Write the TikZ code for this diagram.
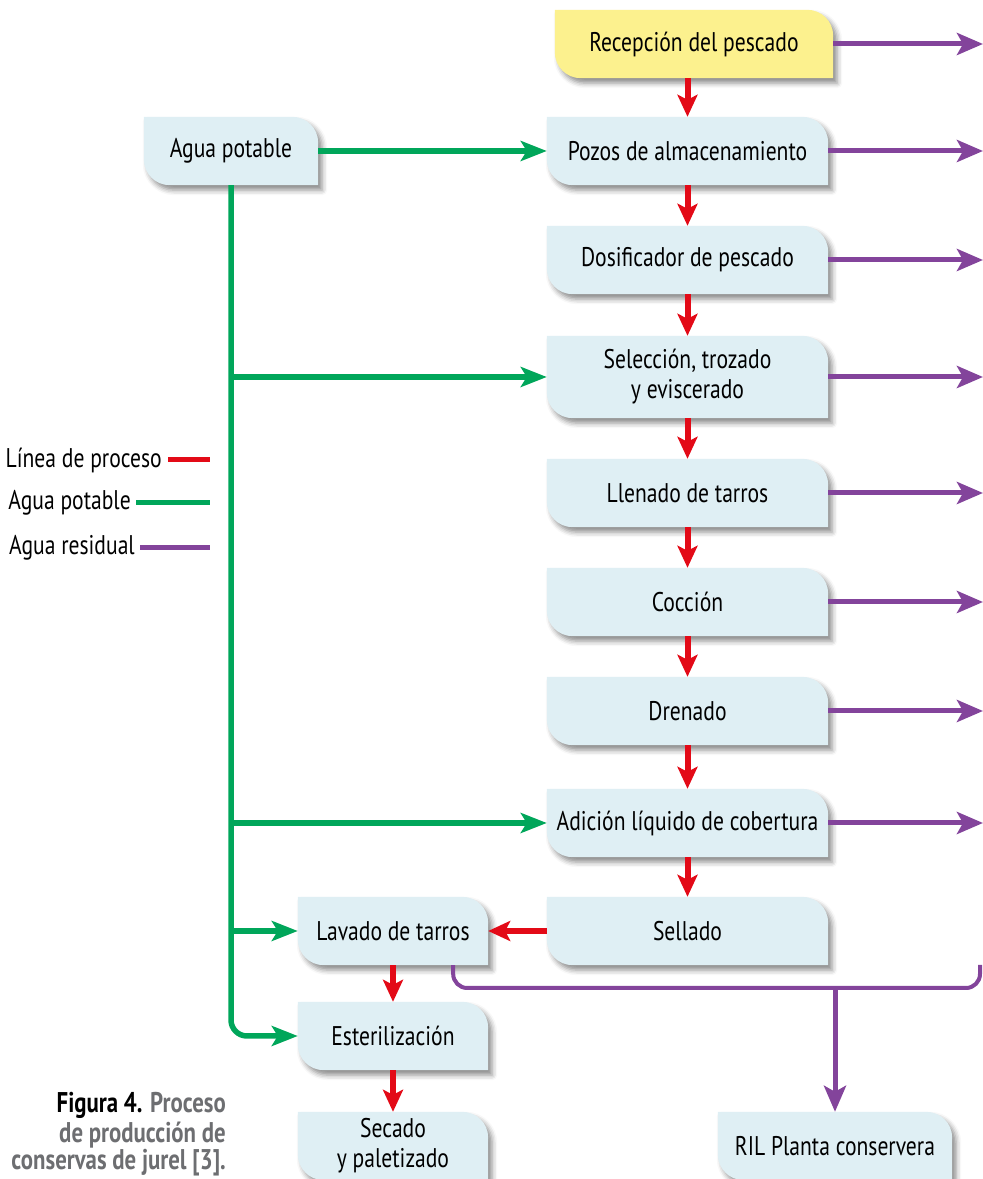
\documentclass[tikz,border=0pt]{standalone}
\usepackage{fontspec}
\setmainfont[FakeStretch=0.80]{PT Sans}
\usetikzlibrary{arrows.meta,calc,backgrounds,shadows.blur}
\definecolor{procred}{HTML}{E30A17}
\definecolor{potgreen}{HTML}{00A65A}
\definecolor{respurple}{HTML}{83449B}
\definecolor{boxblue}{HTML}{DFEFF4}
\definecolor{boxyellow}{HTML}{FCF18E}
\definecolor{capgray}{HTML}{6D6E71}
\newcommand\boxfont{\fontsize{27}{30}\selectfont}
\newcommand\capfont{\fontsize{28.5}{30}\selectfont}
\newcommand\procbox[2]{%
  \fill[#2, blur shadow={shadow xshift=4pt, shadow yshift=-5pt, shadow blur radius=5pt, shadow opacity=45}]
    (#1.north west) -- ($(#1.north east)+(-26pt,0)$)
    arc[start angle=90,end angle=0,radius=26pt] -- (#1.south east)
    -- ($(#1.south west)+(26pt,0)$)
    arc[start angle=270,end angle=180,radius=26pt] -- cycle;}
\tikzset{
  box/.style={minimum width=281pt, minimum height=68pt, inner sep=0pt, align=center, font=\boxfont, text=black},
  smallbox/.style={box, minimum width=190pt},
  redarrow/.style={draw=procred, line width=6pt, -{Stealth[length=22pt,width=20pt,inset=5pt]}},
  greenarrow/.style={draw=potgreen, line width=5.5pt, -{Stealth[length=26pt,width=20pt,inset=6pt]}},
  purplearrow/.style={draw=respurple, line width=5pt, -{Stealth[length=26pt,width=22pt,inset=6pt]}},
  purpleline/.style={draw=respurple, line width=4pt},
  legendtext/.style={anchor=east, inner sep=0pt, font=\boxfont},
  legendline/.style={line width=5pt},
  captext/.style={anchor=east, inner sep=0pt, font=\capfont\bfseries, text=capgray}
}
\begin{document}
\begin{tikzpicture}[x=1pt,y=1pt]
\useasboundingbox (0,0) rectangle (983,1179);
% nodes
\node[box, minimum width=278pt] (rec) at (694,1135) {Recepción del pescado};
\node[box] (pozos) at (687.5,1028) {Pozos de almacenamiento};
\node[box] (dosif) at (687.5,919) {Dosificador de pescado};
\node[box, minimum height=82pt] (selec) at (687.5,802) {Selección, trozado\\ y eviscerado};
\node[box] (llen) at (687.5,686) {Llenado de tarros};
\node[box] (cocc) at (687.5,577) {Cocción};
\node[box] (dren) at (687.5,468) {Drenado};
\node[box] (adic) at (687.5,356) {Adición líquido de cobertura};
\node[box] (sell) at (687.5,248) {Sellado};
\node[box, minimum width=174pt] (agua) at (231,1028) {Agua potable};
\node[smallbox] (lav) at (393,248) {Lavado de tarros};
\node[smallbox] (est) at (393,143) {Esterilización};
\node[smallbox] (sec) at (393,33) {Secado\\ y paletizado};
\node[box, minimum width=234pt] (ril) at (835,33) {RIL Planta conservera};
% box shapes
\begin{scope}[on background layer]
  \procbox{rec}{boxyellow}
  \foreach \n in {pozos,dosif,selec,llen,cocc,dren,adic,sell,agua,lav,est,sec,ril}{\procbox{\n}{boxblue}}
\end{scope}
% helper coordinates
\coordinate (re) at (983,0);
\coordinate (retA) at ($(lav.south east)+(-35pt,0)$);
\coordinate (retB) at (980,191);
\coordinate (retC) at (980,214);
% red process line
\draw[redarrow] (rec.south -| pozos.north) -- (pozos.north);
\draw[redarrow] (pozos.south) -- (dosif.north);
\draw[redarrow] (dosif.south) -- (selec.north);
\draw[redarrow] (selec.south) -- (llen.north);
\draw[redarrow] (llen.south) -- (cocc.north);
\draw[redarrow] (cocc.south) -- (dren.north);
\draw[redarrow] (dren.south) -- (adic.north);
\draw[redarrow] (adic.south) -- (sell.north);
\draw[redarrow] (sell.west) -- (lav.east);
\draw[redarrow] (lav.south) -- (est.north);
\draw[redarrow] (est.south) -- (sec.north);
% green potable water
\draw[greenarrow] (agua.east) -- (pozos.west);
\draw[greenarrow, rounded corners=16pt] (agua.south) -- (agua.south |- est.west) -- (est.west);
\draw[greenarrow] (agua.south |- selec.west) -- (selec.west);
\draw[greenarrow] (agua.south |- adic.west) -- (adic.west);
\draw[greenarrow] (agua.south |- lav.west) -- (lav.west);
% purple residual water
\foreach \n in {rec,pozos,dosif,selec,llen,cocc,dren,adic}{
  \draw[purplearrow] (\n.east) -- (\n.east -| re);
}
\draw[purpleline, rounded corners=14pt] (retA) -- (retA |- retB) -- (retB) -- (retC);
\draw[purplearrow] (retB -| ril.north) -- (ril.north);
% legend
\node[legendtext] (l1) at (162,719) {Línea de proceso};
\node[legendtext] (l2) at (131,676) {Agua potable};
\node[legendtext] (l3) at (135,631) {Agua residual};
\coordinate (lend) at (210,0);
\draw[legendline, procred] ($(l1.east)+(6pt,0)$) -- (l1.east -| lend);
\draw[legendline, potgreen] ($(l2.east)+(5pt,0)$) -- (l2.east -| lend);
\draw[legendline, respurple] ($(l3.east)+(5pt,0)$) -- (l3.east -| lend);
% caption
\node[captext] (c1) at (226,74) {\textcolor{black}{Figura 4.} Proceso};
\node[captext] (c2) at (226,44) {de producción de};
\node[captext] (c3) at (226,16) {conservas de jurel [3].};
\end{tikzpicture}
\end{document}
